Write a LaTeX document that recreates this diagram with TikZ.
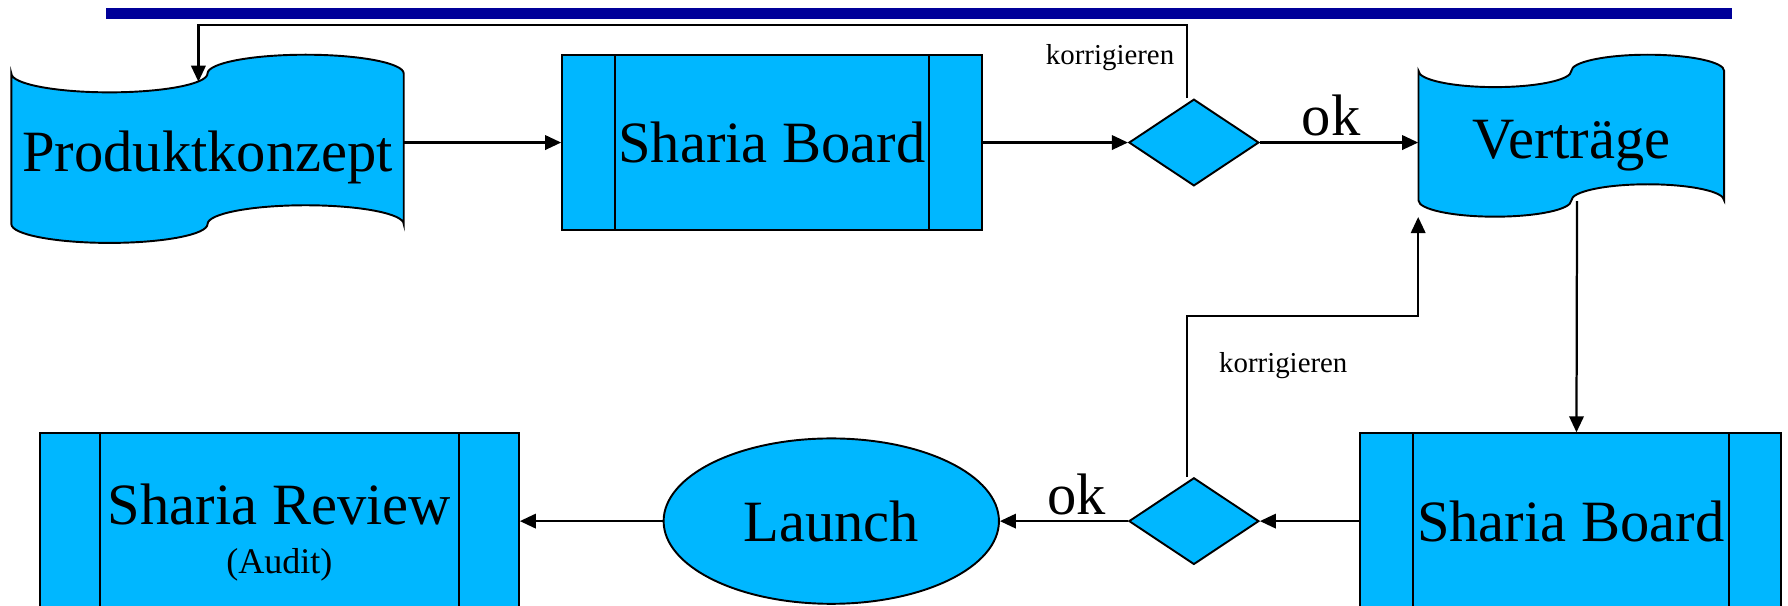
\documentclass[tikz,border=0pt]{standalone}
\usepackage{fontspec}
\setmainfont{Liberation Serif}
\usetikzlibrary{arrows.meta,shapes.geometric,positioning}

\definecolor{hellblau}{RGB}{0,183,255}
\definecolor{balken}{RGB}{0,0,153}

\tikzset{
  prozess/.style={draw, fill=hellblau, line width=1.2pt, inner sep=0pt, minimum height=3.85cm,
    path picture={\draw[line width=1.2pt]
      ([xshift=#1]path picture bounding box.north west) -- ([xshift=#1]path picture bounding box.south west)
      ([xshift=-#1]path picture bounding box.north east) -- ([xshift=-#1]path picture bounding box.south east);}},
  entscheid/.style={diamond, draw, fill=hellblau, line width=1.2pt, inner sep=0pt, aspect=1.5,
    minimum width=2.85cm, minimum height=1.9cm},
  textfeld/.style={inner sep=0pt, text height=28pt, text depth=0pt},
  gross/.style={font=\fontsize{36.5}{40}\selectfont},
  klein/.style={font=\fontsize{18}{21}\selectfont},
  pfeil/.style={-{Triangle[length=10pt,width=9pt]}, line width=1.4pt}
}

% Lochstreifen: Mitte, Breite, Hoehe
\newcommand{\band}[3]{%
  \draw[line width=1.2pt, fill=hellblau] ([shift={(-#2/2,#3*0.4)}]#1)
    arc[start angle=180,end angle=360,x radius=#2/4,y radius=#3/10]
    arc[start angle=180,end angle=0,x radius=#2/4,y radius=#3/10]
    -- ++(0,-#3*0.8)
    arc[start angle=0,end angle=180,x radius=#2/4,y radius=#3/10]
    arc[start angle=0,end angle=-180,x radius=#2/4,y radius=#3/10]
    -- cycle;}

\begin{document}
\begin{tikzpicture}[x=0.025cm, y=-0.025cm]
  \useasboundingbox (0,0) rectangle (1568,531);
  \fill[balken] (93,7) rectangle (1519,17);

  % obere Reihe
  \band{182,130.5}{8.6cm}{4.125cm}
  \node[textfeld, gross, minimum width=8.6cm, minimum height=4.125cm] (konzept) at (182,130.5) {Produktkonzept};
  \node[prozess=1.15cm, gross, minimum width=9.2cm] (board1) at (677,125) {Sharia Board};
  \node[entscheid] (dec1) at (1047,125) {};
  \band{1378,119}{6.7cm}{3.55cm}
  \node[textfeld, gross, minimum width=6.7cm, minimum height=3.55cm] (vertrag) at (1378,119) {Verträge};

  % untere Reihe
  \node[prozess=1.15cm, gross, minimum width=9.225cm] (board2) at (1377.5,457) {Sharia Board};
  \node[entscheid] (dec2) at (1047,457) {};
  \node[ellipse, draw, fill=hellblau, line width=1.2pt, inner sep=0pt, gross,
    minimum width=7.35cm, minimum height=3.625cm] (launch) at (729,457) {Launch};
  \node[prozess=1.32cm, minimum width=10.5cm, align=center, font=\fontsize{36.5}{30.6}\selectfont] (review) at (245,457)
    {\rule{0pt}{40pt}Sharia Review\\{\fontsize{22.5}{30.6}\selectfont (Audit)}};

  % Verbindungen
  \draw[pfeil] (konzept.east |- board1.west) -- (board1.west);
  \draw[pfeil] (board1) -- (dec1);
  \draw[pfeil] (dec1.east) -- (dec1.east -| vertrag.west) node[pos=0.45, above, gross] {ok};
  \draw[pfeil] ([shift={(-6,0)}]dec1.north) -- ++(0,-64) node[pos=0.55, left=4pt, klein] {korrigieren}
    -| ([shift={(-8,24)}]konzept.north);
  \draw[pfeil] ([shift={(5,-14)}]vertrag.south) -- ([shift={(5,0)}]board2.north);
  \draw[pfeil] (board2) -- (dec2);
  \draw[pfeil] (dec2) -- (launch) node[pos=0.4, above, gross] {ok};
  \draw[pfeil] (launch) -- (review);
  \draw[pfeil] ([shift={(-6,0)}]dec2.north) -- ++(0,-141) node[pos=0.69, right=16pt, klein] {korrigieren}
    -| (vertrag.south west);
\end{tikzpicture}
\end{document}
